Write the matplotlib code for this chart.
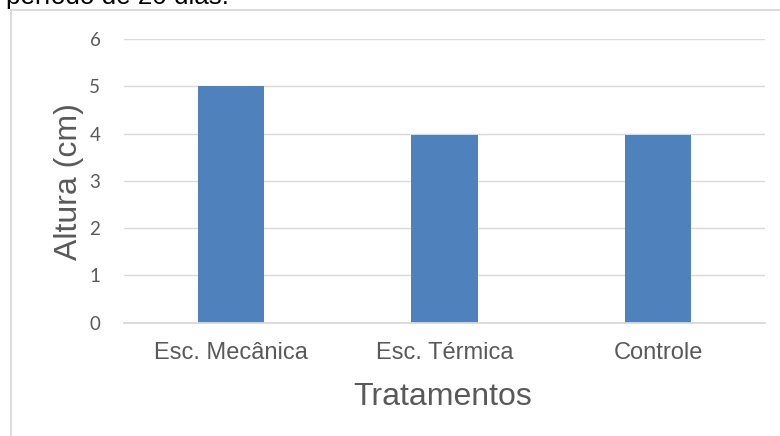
import matplotlib.pyplot as plt
from matplotlib.lines import Line2D

# data
categories = ['Esc. Mecânica', 'Esc. Térmica', 'Controle']
heights = [5.0, 3.97, 3.97]
yticks = [0, 1, 2, 3, 4, 5, 6]

W, H = 780, 436


def fx(px):
    return px / W


def fy(py):
    return 1 - py / H


fig = plt.figure(figsize=(7.8, 4.36), dpi=100)
fig.patch.set_facecolor('white')

# plot area, in pixel coords of the reference
left, right, top, bottom = 124, 765, 39, 322.7
ax = fig.add_axes([fx(left), fy(bottom), fx(right - left), (bottom - top) / H])

x = range(len(categories))
ax.bar(x, heights, width=0.31, color='#4f81bd', zorder=3)

ax.set_xlim(-0.5, len(categories) - 0.5)
ax.set_ylim(0, 6)
ax.set_yticks(yticks)
ax.set_xticks(list(x))
ax.set_xticklabels(categories, family='Liberation Sans', fontsize=17, color='#595959')
ax.set_yticklabels([str(t) for t in yticks], family='Lato', fontsize=13.5, color='#595959')

ax.grid(axis='y', color='#d9d9d9', linewidth=1.0, zorder=0)
ax.tick_params(axis='both', length=0)
ax.tick_params(axis='y', pad=17)
ax.tick_params(axis='x', pad=14)
for side in ['left', 'right', 'top']:
    ax.spines[side].set_visible(False)
ax.spines['bottom'].set_color('#d9d9d9')
ax.spines['bottom'].set_linewidth(1.3)
ax.spines['bottom'].set_zorder(4)

# axis titles
fig.text(fx(443), fy(405), 'Tratamentos', family='Liberation Sans', fontsize=23,
         color='#595959', ha='center', va='baseline')
fig.text(fx(77), fy(182), 'Altura (cm)', family='Liberation Sans', fontsize=23,
         color='#595959', rotation=90, ha='center', va='baseline', rotation_mode='anchor')

# chart frame (left and top edges visible)
fig.add_artist(Line2D([fx(11), fx(11)], [fy(10), 0], color='#d9d9d9', linewidth=1.3))
fig.add_artist(Line2D([fx(11), 1], [fy(10), fy(10)], color='#d9d9d9', linewidth=1.3))

# caption text cut off by the screenshot
fig.text(fx(6), fy(4), 'período de 20 dias.', family='Liberation Sans', fontsize=18.7,
         color='black', ha='left', va='baseline')

fig.savefig('out.png', dpi=100)
